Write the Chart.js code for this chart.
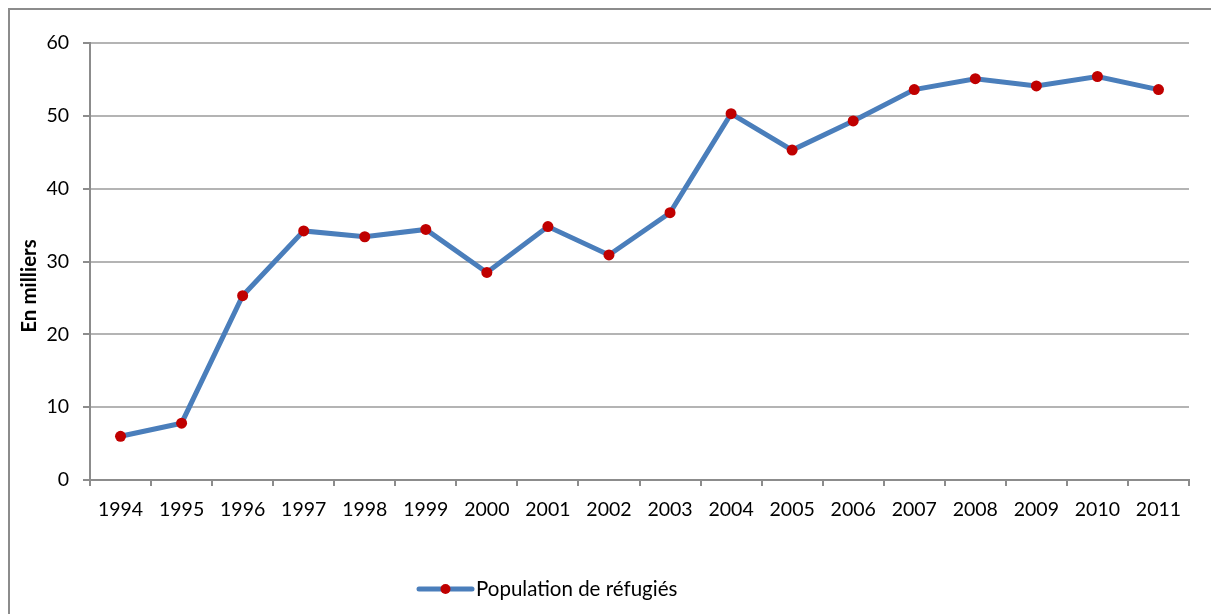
<!DOCTYPE html>
<html><head><meta charset="utf-8">
<script src="https://cdn.jsdelivr.net/npm/chart.js@4"></script>
<style>
html,body{margin:0;padding:0;background:#fff;overflow:hidden;}
#wrap{position:relative;width:1211px;height:614px;overflow:hidden;}
#frame{position:absolute;left:8px;top:8px;width:1400px;height:800px;border:2px solid #8c8c8c;box-sizing:border-box;}
canvas{position:absolute;left:0;top:0;}
</style></head>
<body><div id="wrap"><div id="frame"></div><canvas id="c" width="1211" height="614"></canvas></div>
<script>
const years = ['1994','1995','1996','1997','1998','1999','2000','2001','2002','2003','2004','2005','2006','2007','2008','2009','2010','2011'];
const refugees = [6.0, 7.8, 25.3, 34.2, 33.4, 34.4, 28.5, 34.8, 30.9, 36.7, 50.3, 45.3, 49.3, 53.6, 55.1, 54.1, 55.4, 53.6];
const yMin = 0, yMax = 60, yStep = 10;
const seriesLabel = 'Population de réfugiés';
const yTitle = 'En milliers';

const lineColor = '#4a7ebb';
const pointColor = '#c00000';

const extras = {
  id: 'extras',
  afterDraw(chart) {
    const ctx = chart.ctx;
    ctx.save();
    // y-axis title
    ctx.translate(29, 286);
    ctx.rotate(-Math.PI / 2);
    ctx.font = 'bold 20.5px Lato';
    ctx.fillStyle = '#000';
    ctx.textAlign = 'center';
    ctx.textBaseline = 'middle';
    ctx.fillText(yTitle, 0, 0);
    ctx.restore();
    // legend
    ctx.save();
    const ly = 589, lx0 = 419, lx1 = 472;
    ctx.strokeStyle = lineColor;
    ctx.lineWidth = 5;
    ctx.lineCap = 'round';
    ctx.beginPath(); ctx.moveTo(lx0, ly); ctx.lineTo(lx1, ly); ctx.stroke();
    ctx.fillStyle = pointColor;
    ctx.beginPath(); ctx.arc((lx0 + lx1) / 2, ly, 5, 0, Math.PI * 2); ctx.fill();
    ctx.fillStyle = '#000';
    ctx.font = '20.5px Lato';
    ctx.textAlign = 'left';
    ctx.textBaseline = 'middle';
    ctx.fillText(chart.data.datasets[0].label, 476, ly);
    ctx.restore();
  }
};

new Chart(document.getElementById('c'), {
  type: 'line',
  data: {
    labels: years,
    datasets: [{
      label: seriesLabel,
      data: refugees,
      borderColor: lineColor,
      borderWidth: 5,
      tension: 0,
      pointRadius: 5.5,
      pointHoverRadius: 5.5,
      pointBackgroundColor: pointColor,
      pointBorderColor: pointColor,
      pointBorderWidth: 0
    }]
  },
  options: {
    responsive: false,
    animation: false,
    devicePixelRatio: 1,
    layout: { padding: { top: 43, right: 22, bottom: 0, left: 0 } },
    plugins: { legend: { display: false }, tooltip: { enabled: false } },
    scales: {
      x: {
        type: 'category',
        offset: true,
        grid: { display: true, offset: true, drawOnChartArea: false, drawTicks: true, tickLength: 6, color: '#8c8c8c', lineWidth: 2 },
        border: { display: true, color: '#8c8c8c', width: 2 },
        ticks: { color: '#000', font: { family: 'Lato', size: 19.5 }, padding: 12, maxRotation: 0, autoSkip: false },
        afterFit(s) { s.height = 134; }
      },
      y: {
        min: yMin, max: yMax,
        ticks: { stepSize: yStep, color: '#000', font: { family: 'Lato', size: 19.5 }, padding: 14 },
        grid: { color: '#b4b4b4', lineWidth: 2, tickLength: 7, tickColor: '#8c8c8c' },
        border: { display: true, color: '#8c8c8c', width: 2 },
        afterFit(s) { s.width = 90; }
      }
    }
  },
  plugins: [extras]
});
</script>
</body></html>
